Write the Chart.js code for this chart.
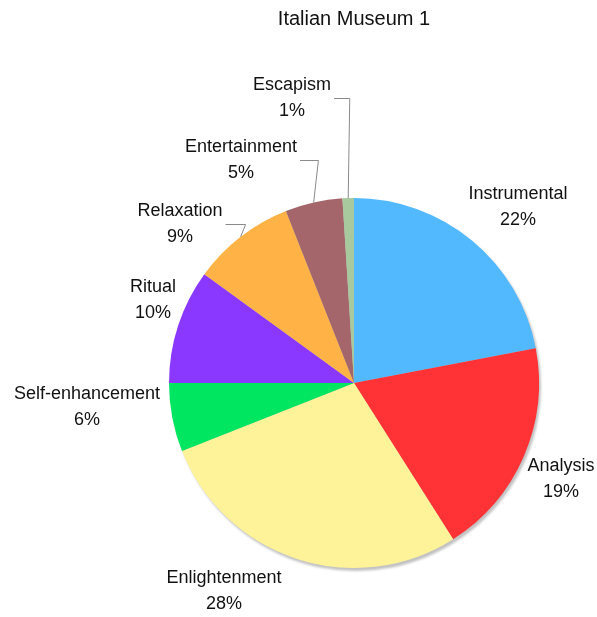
<!DOCTYPE html>
<html>
<head>
<meta charset="utf-8">
<title>Italian Museum 1</title>
<script src="https://cdn.jsdelivr.net/npm/chart.js@4.4.1/dist/chart.umd.min.js"></script>
<style>
  html, body { margin: 0; padding: 0; background: #fff; }
</style>
</head>
<body>
<canvas id="chartMuseum" width="597" height="617"></canvas>
<script>
// visitor motivations, share of answers (%)
const categories = ['Instrumental', 'Analysis', 'Enlightenment', 'Self-enhancement', 'Ritual', 'Relaxation', 'Entertainment', 'Escapism'];
const shares = [22, 19, 28, 6, 10, 9, 5, 1];
const sliceColors = ['#52b9ff', '#ff3336', '#fff399', '#00e660', '#8a38ff', '#ffb347', '#a4666a', '#a8c99e'];

// where each label block sits, measured from the pie centre
const labelOffsets = [[164, -176], [207, 96], [-130, 208], [-267, 24], [-201, -83], [-174, -159], [-113, -223], [-62, -285]];
const withLeader = [false, false, false, false, false, true, true, true];

const FONT = '"Liberation Sans", Arial, sans-serif';

// soft grey disc behind the pie
const pieShadow = {
  id: 'pieShadow',
  beforeDatasetsDraw(chart) {
    const arc = chart.getDatasetMeta(0).data[0];
    if (!arc) return;
    const ctx = chart.ctx;
    ctx.save();
    ctx.filter = 'blur(1px)';
    ctx.fillStyle = 'rgba(120,120,120,0.45)';
    ctx.beginPath();
    ctx.arc(arc.x + 2, arc.y + 3, arc.outerRadius, 0, Math.PI * 2);
    ctx.fill();
    ctx.restore();
  }
};

// two-line labels outside the pie, with elbow lines for the thin slices
const sliceLabels = {
  id: 'sliceLabels',
  afterDatasetsDraw(chart) {
    const ctx = chart.ctx;
    const meta = chart.getDatasetMeta(0);
    ctx.save();
    ctx.font = '18px ' + FONT;
    ctx.textAlign = 'center';
    ctx.textBaseline = 'middle';
    meta.data.forEach(function (arc, i) {
      const p = arc.getProps(['x', 'y', 'outerRadius', 'startAngle', 'endAngle'], true);
      const lx = p.x + labelOffsets[i][0];
      const ly = p.y + labelOffsets[i][1];
      ctx.fillStyle = '#111';
      ctx.fillText(categories[i], lx, ly - 13);
      ctx.fillText(shares[i] + '%', lx, ly + 13);

      if (withLeader[i]) {
        const mid = (p.startAngle + p.endAngle) / 2;
        const dx = Math.cos(mid), dy = Math.sin(mid);
        const ax = p.x + dx * p.outerRadius;
        const ay = p.y + dy * p.outerRadius;
        const ex = ax + dx / Math.abs(dy) * (ay - ly) * 0.5 * -1;
        const w = ctx.measureText(categories[i]).width;
        ctx.strokeStyle = '#8a8a8a';
        ctx.lineWidth = 1;
        ctx.beginPath();
        ctx.moveTo(ax, ay);
        ctx.lineTo(ex, ly + 0.5);
        ctx.lineTo(lx + w / 2 + 3, ly + 0.5);
        ctx.stroke();
      }
    });
    ctx.restore();
  }
};

new Chart(document.getElementById('chartMuseum'), {
  type: 'pie',
  data: {
    labels: categories,
    datasets: [{
      data: shares,
      backgroundColor: sliceColors,
      borderWidth: 0,
      offset: 0,
      hoverOffset: 0
    }]
  },
  options: {
    responsive: false,
    animation: false,
    layout: {
      padding: { left: 169, right: 58, top: 0, bottom: 49 }
    },
    plugins: {
      legend: { display: false },
      tooltip: { enabled: false },
      title: {
        display: true,
        text: 'Italian Museum 1',
        color: '#111',
        font: { family: FONT, size: 20, weight: 'normal', lineHeight: 1.2 },
        padding: { top: 7, bottom: 167 }
      }
    }
  },
  plugins: [pieShadow, sliceLabels]
});
</script>
</body>
</html>
